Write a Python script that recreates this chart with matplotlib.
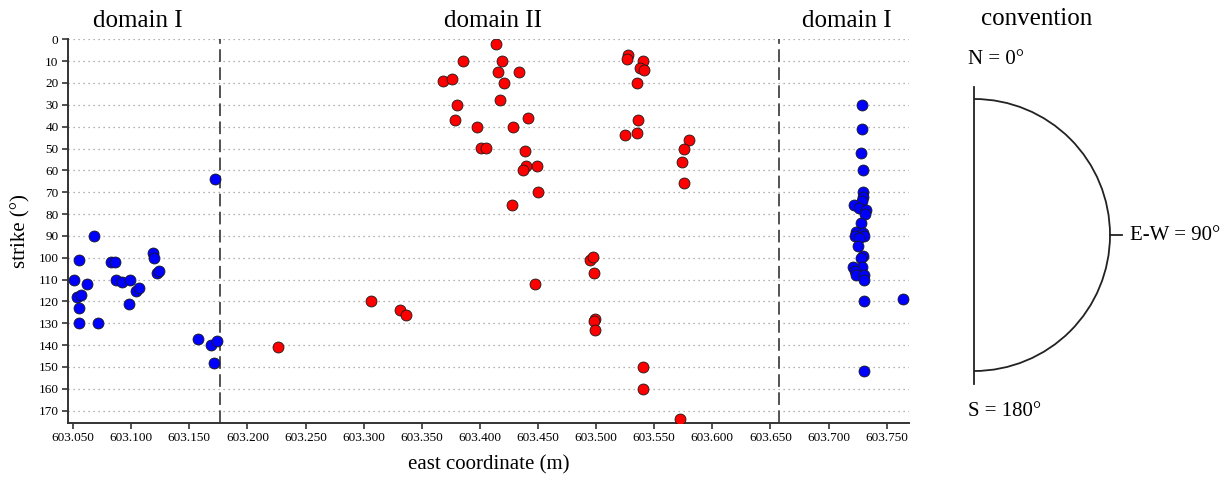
import matplotlib
import matplotlib.pyplot as plt
from matplotlib.patches import Arc
matplotlib.use("agg")

plt.rcParams["font.family"] = ["Liberation Serif", "DejaVu Serif"]

# strike measurements along the profile, split by structural domain
blue_x = [
    603.0508, 603.0548, 603.0534, 603.0568, 603.0548, 603.0553, 603.0622,
    603.0683, 603.0714, 603.0824, 603.0858, 603.0869, 603.0921, 603.0990,
    603.0981, 603.1044, 603.1067, 603.1185, 603.1194, 603.1219, 603.1239,
    603.1724, 603.1577, 603.1684, 603.1741, 603.1715,
    603.7289, 603.7287, 603.7281, 603.7298, 603.7298, 603.7298, 603.7292,
    603.7218, 603.7263, 603.7324, 603.7315, 603.7283, 603.7235, 603.7298,
    603.7229, 603.7304, 603.7261, 603.7252, 603.7298, 603.7283, 603.7289,
    603.7209, 603.7231, 603.7235, 603.7304, 603.7309, 603.7309, 603.7644,
    603.7309,
]
blue_y = [
    110, 101, 118, 117, 123, 130, 112,
    90, 130, 102, 102, 110, 111, 110,
    121, 115, 114, 98, 100, 107, 106,
    64, 137, 140, 138, 148,
    30, 41, 52, 60, 70, 72, 74,
    76, 77, 78, 80, 84, 88, 88.5,
    90, 90, 91, 94.5, 99, 100, 104,
    104, 106, 108, 108, 110, 120, 119,
    152,
]
red_x = [
    603.2261, 603.3064, 603.3310, 603.3365,
    603.4137, 603.3858, 603.4194, 603.4157, 603.4337, 603.3686, 603.3761,
    603.4208, 603.4174, 603.3806, 603.3789, 603.4415, 603.3976, 603.4286,
    603.4013, 603.4051, 603.4387, 603.4398, 603.4370, 603.4492, 603.4501,
    603.4277, 603.4475,
    603.4948, 603.4977, 603.4985, 603.4991, 603.4985, 603.4994,
    603.5278, 603.5267, 603.5404, 603.5379, 603.5413, 603.5353, 603.5364,
    603.5353, 603.5249, 603.5803, 603.5755, 603.5743, 603.5755,
    603.5407, 603.5402, 603.5726,
]
red_y = [
    141, 120, 124, 126,
    2, 10, 10, 15, 15, 19, 18,
    20, 28, 30, 37, 36, 40, 40,
    49.6, 49.6, 51, 58, 60, 58, 70,
    76, 112,
    101, 99.6, 107, 128, 129, 133,
    7, 9, 10, 13, 14, 20, 37,
    43, 44, 46, 50, 56, 66,
    150, 160, 174,
]
domain_bounds = [603.176, 603.657]
domain_titles = [(603.106, "domain I"), (603.411, "domain II"), (603.716, "domain I")]

W, H = 1232, 479
ax_top, ax_bottom = 39.3, 422.7
fig = plt.figure(figsize=(W / 100, H / 100), dpi=100)
ax = fig.add_axes([68.3 / W, 1 - ax_bottom / H, (908.7 - 68.3) / W,
                   (ax_bottom - ax_top) / H])

ax.scatter(blue_x, blue_y, s=62, c="#0000ff", edgecolors="#1a1a1a",
           linewidths=0.6, zorder=3)
ax.scatter(red_x, red_y, s=62, c="#ff0000", edgecolors="#1a1a1a",
           linewidths=0.6, zorder=3)
for xb in domain_bounds:
    ax.axvline(xb, color="#444444", lw=1.3, ls=(0, (7, 3)), zorder=2)

ax.set_xlim(603.0459, 603.769)
ax.set_ylim(175.5, 0)
ax.set_yticks(range(0, 180, 10))
ax.set_xticks([603.05 + 0.05 * i for i in range(15)])
ax.set_xticklabels([f"{603.05 + 0.05 * i:.3f}" for i in range(15)])
ax.grid(axis="y", ls=(0, (1, 3)), color="#999999", lw=0.9)
ax.set_axisbelow(True)
for side in ("top", "right"):
    ax.spines[side].set_visible(False)
for side in ("left", "bottom"):
    ax.spines[side].set_color("#333333")
    ax.spines[side].set_linewidth(1.4)
ax.tick_params(labelsize=9.5, length=4, width=1.2, color="#333333", pad=3)
ax.set_xlabel("east coordinate (m)", fontsize=15, labelpad=8)
ax.set_ylabel("strike (°)", fontsize=15, labelpad=6)

# domain names sit above the plotting area
title_y = (ax_bottom - 21) / (ax_bottom - ax_top)
for xt, txt in domain_titles:
    ax.text(xt, title_y, txt, transform=ax.get_xaxis_transform(),
            fontsize=18, ha="center", va="center")

# orientation sketch, drawn in pixel units
x0 = 930
cx = fig.add_axes([x0 / W, 0, (W - x0) / W, 1])
cx.set_xlim(x0, W)
cx.set_ylim(H, 0)
cx.axis("off")
cx.plot([974, 974], [87, 384], color="#222222", lw=1.3)
cx.add_patch(Arc((974, 235), 272, 272, theta1=-90, theta2=90,
                 color="#222222", lw=1.3))
cx.plot([1110, 1122], [235, 235], color="#222222", lw=1.3)
cx.text(1037, 19, "convention", fontsize=18, ha="center", va="center")
cx.text(968, 59, "N = 0°", fontsize=15, ha="left", va="center")
cx.text(968, 411, "S = 180°", fontsize=15, ha="left", va="center")
cx.text(1130, 235, "E-W = 90°", fontsize=15, ha="left", va="center")

fig.savefig("out.png", dpi=100)
